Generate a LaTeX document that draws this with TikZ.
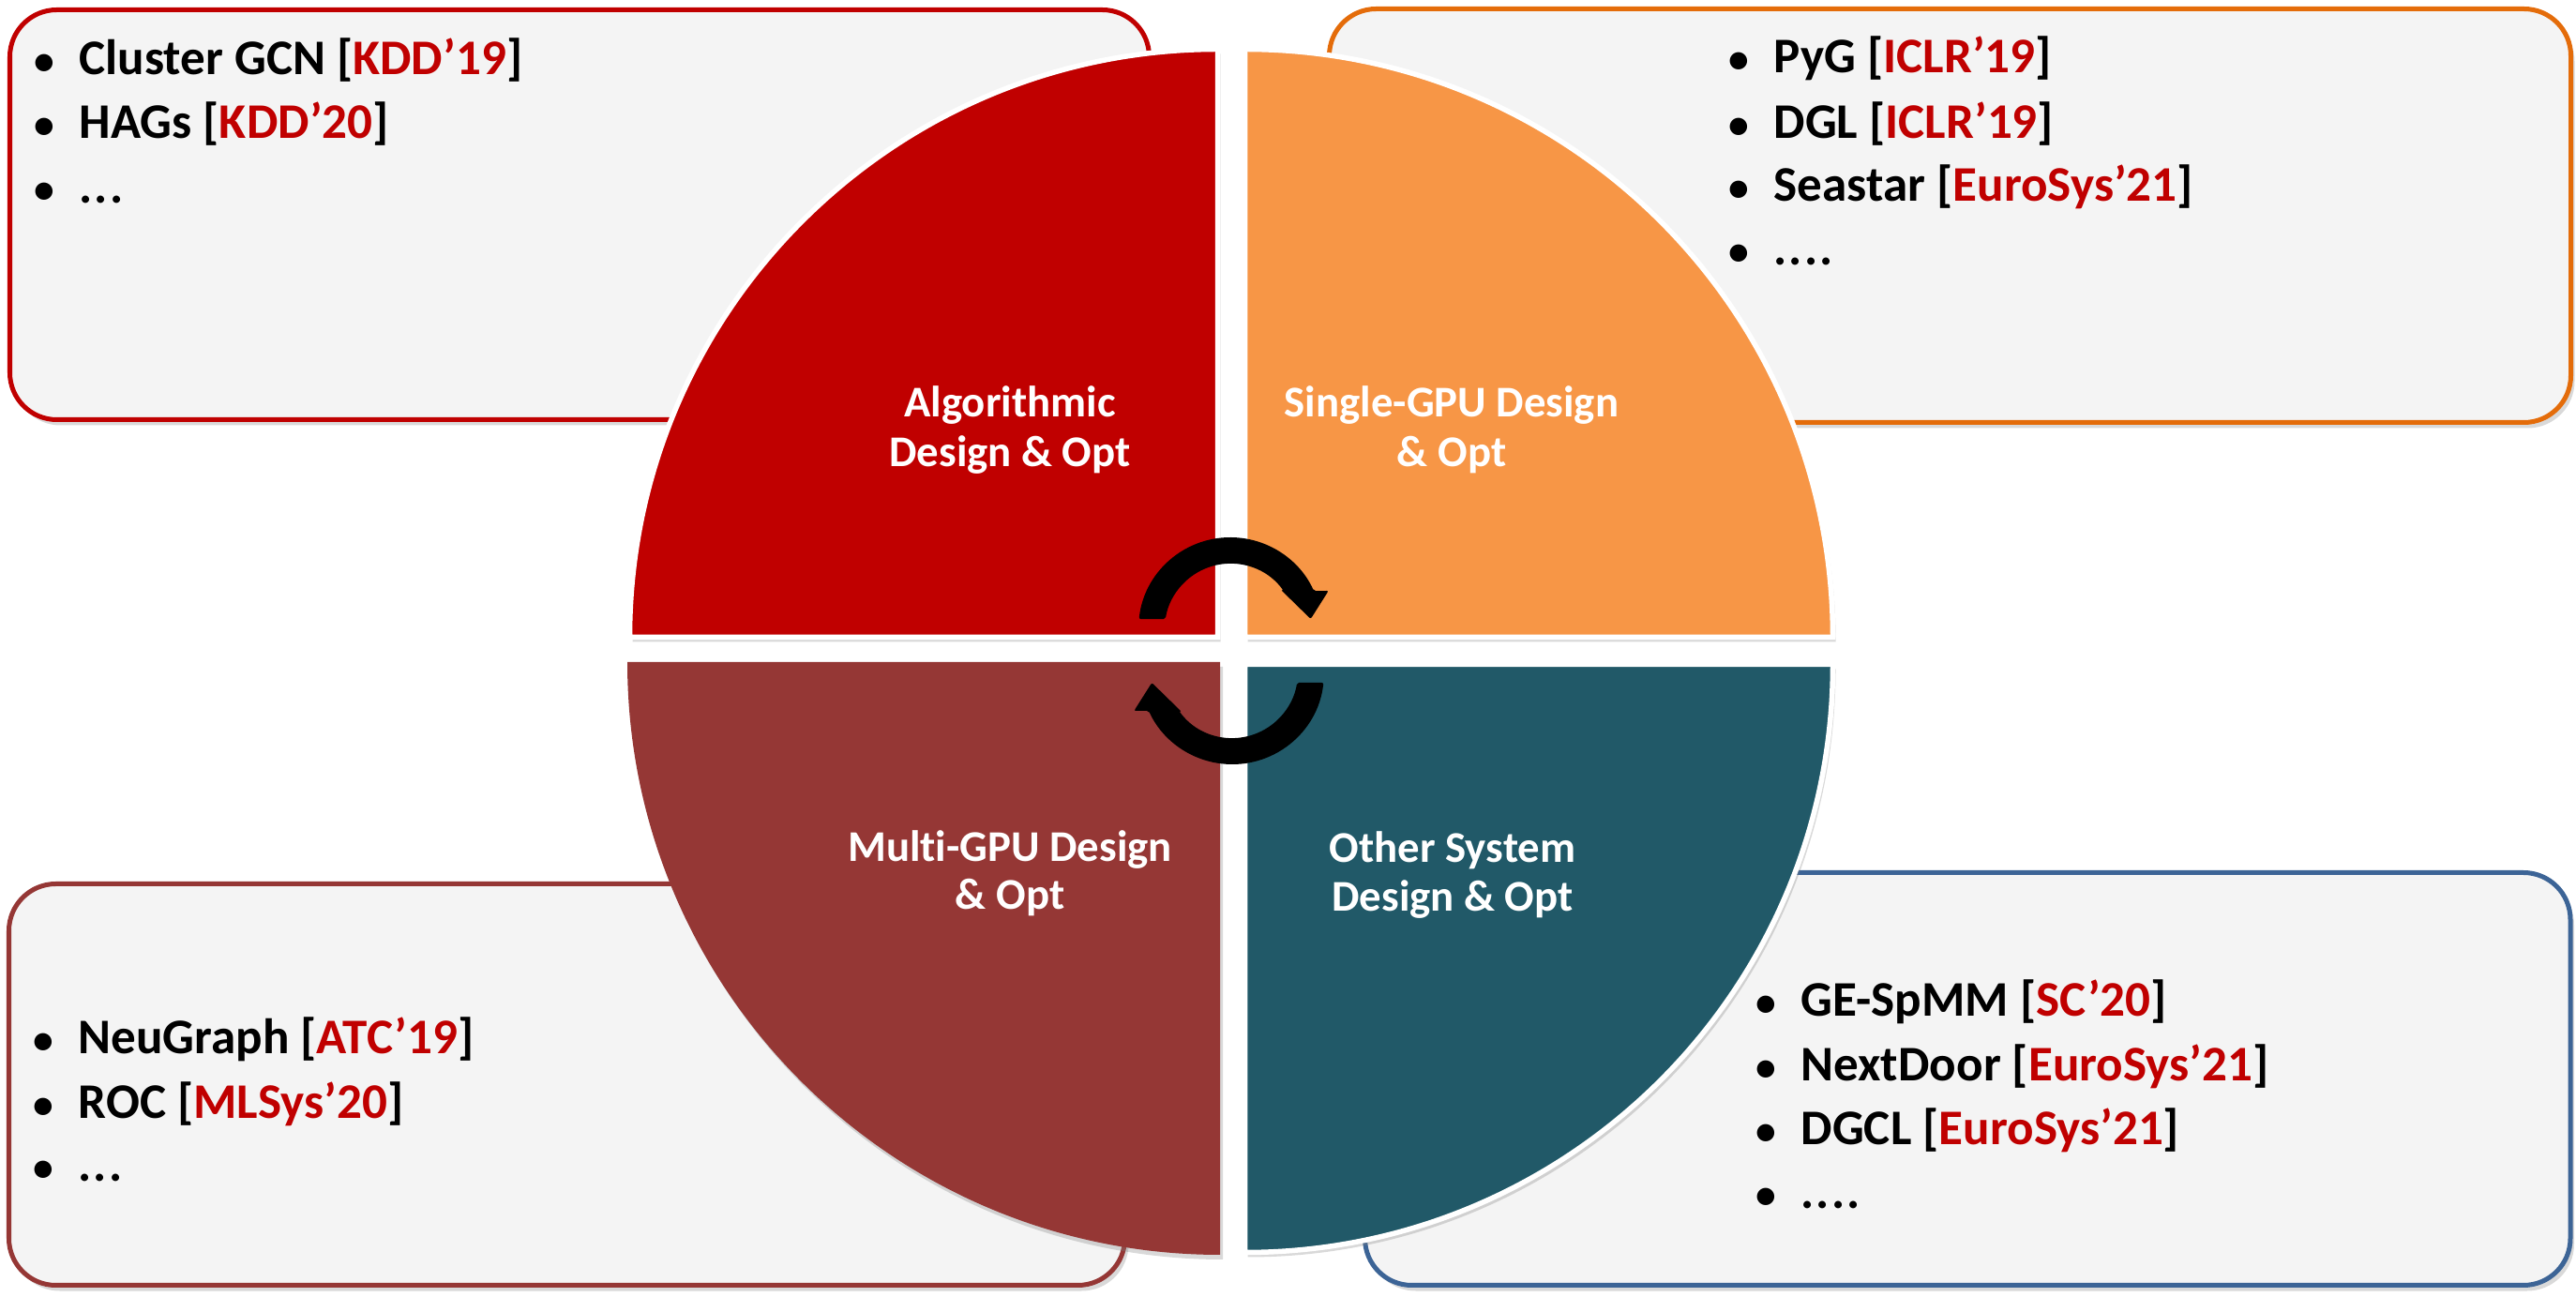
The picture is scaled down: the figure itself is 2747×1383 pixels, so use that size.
\documentclass[tikz,border=0pt]{standalone}
\usepackage{fontspec}
\setmainfont{Carlito}[Ligatures={NoCommon}]
\usetikzlibrary{shadows}
\definecolor{bred}{HTML}{C00000}
\definecolor{qTL}{HTML}{C00000}
\definecolor{qTR}{HTML}{F79646}
\definecolor{qBL}{HTML}{953735}
\definecolor{qBR}{HTML}{215968}
\definecolor{bTR}{HTML}{E46C0A}
\definecolor{bBL}{HTML}{953735}
\definecolor{bBR}{HTML}{3C6496}
\definecolor{boxfill}{HTML}{F4F4F4}
\newcommand{\rd}[1]{\textcolor{bred}{#1}}
\newcommand{\bul}{\llap{\makebox[0pt][c]{\scalebox{0.82}{•}}\hspace{0.37cm}}}
\begin{document}
\begin{tikzpicture}[x=0.01cm,y=-0.01cm,
  box/.style={rounded corners=0.5cm, line width=0.05cm, fill=boxfill,
    drop shadow={opacity=0.3, shadow xshift=0.04cm, shadow yshift=-0.06cm}},
  quad/.style={draw=white, line width=0.055cm,
    drop shadow={opacity=0.3, shadow xshift=0.03cm, shadow yshift=-0.05cm}},
  li/.style={anchor=base west, inner sep=0pt, font=\fontsize{15.1}{18}\selectfont\bfseries},
  ql/.style={anchor=base, inner sep=0pt, text=white, font=\fontsize{13.3}{16}\selectfont\bfseries}]
\useasboundingbox (0,0) rectangle (2747,1383);

% boxes
\draw[box, draw=bred] (10.5,10.5) rectangle (1225.5,447.5);
\draw[box, draw=bTR] (1417.5,9.5) rectangle (2741.5,450.5);
\draw[box, draw=bBL] (9.5,942.5) rectangle (1199.5,1370.5);
\draw[box, draw=bBR] (1455.5,930.5) rectangle (2741,1370.5);

% pie quadrants
\filldraw[quad, fill=qTL] (1298.5,679.5) -- (671.5,679.5) arc[start angle=180, end angle=270, radius=627] -- cycle;
\filldraw[quad, fill=qTR] (1327.5,679.5) -- (1954.5,679.5) arc[start angle=0, end angle=-90, radius=627] -- cycle;
\fill[fill=qBL, drop shadow={opacity=0.3, shadow xshift=0.03cm, shadow yshift=-0.05cm}] (1301,706) -- (669,706) arc[start angle=180, end angle=90, radius=632] -- cycle;
\filldraw[quad, fill=qBR] (1327.5,708.5) -- (1954.5,708.5) arc[start angle=0, end angle=90, radius=627] -- cycle;

% cycle arrows
\begin{scope}[shift={(1312,671)}]
\fill[black, rounded corners=0.02cm] (-173.6:98) arc[start angle=-173.6, end angle=-24.7, radius=98] -- (104.7,-41) -- (85.7,-11) -- (54,-42) -- (-35.9:70) arc[start angle=-35.9, end angle=-171, radius=70] -- cycle;
\end{scope}
\begin{scope}[rotate around={180:(1313,694)}]
\begin{scope}[shift={(1312,671)}]
\fill[black, rounded corners=0.02cm] (-173.6:98) arc[start angle=-173.6, end angle=-24.7, radius=98] -- (104.7,-41) -- (85.7,-11) -- (54,-42) -- (-35.9:70) arc[start angle=-35.9, end angle=-171, radius=70] -- cycle;
\end{scope}
\end{scope}

% quadrant labels
\node[ql] (qa1) at (1077,445) {Algorithmic};
\node[ql] (qa2) at (1077,498) {Design \& Opt};
\node[ql] (qb1) at (1548,445) {Single-GPU Design};
\node[ql] (qb2) at (1548,498) {\& Opt};
\node[ql] (qc1) at (1077,919) {Multi-GPU Design};
\node[ql] (qc2) at (1077,970) {\& Opt};
\node[ql] (qd1) at (1549,920) {Other System};
\node[ql] (qd2) at (1549,972) {Design \& Opt};

% lists
\node[li] (a1) at (84,80) {\bul Cluster GCN [\rd{KDD’19}]};
\node[li] (a2) at (84,148) {\bul HAGs [\rd{KDD’20}]};
\node[li] (a3) at (84,217) {\bul .\kern0.04em.\kern0.04em.};

\node[li] (b1) at (1891,78) {\bul PyG [\rd{ICLR’19}]};
\node[li] (b2) at (1891,148) {\bul DGL [\rd{ICLR’19}]};
\node[li] (b3) at (1891,215) {\bul Seastar [\rd{EuroSys’21}]};
\node[li] (b4) at (1891,283) {\bul .\kern0.04em.\kern0.04em.\kern0.04em.};

\node[li] (c1) at (83,1124) {\bul NeuGraph [\rd{ATC’19}]};
\node[li] (c2) at (83,1193) {\bul ROC [\rd{MLSys’20}]};
\node[li] (c3) at (83,1260) {\bul .\kern0.04em.\kern0.04em.};

\node[li] (d1) at (1920,1084) {\bul GE-SpMM [\rd{SC’20}]};
\node[li] (d2) at (1920,1153) {\bul NextDoor [\rd{EuroSys’21}]};
\node[li] (d3) at (1920,1221) {\bul DGCL [\rd{EuroSys’21}]};
\node[li] (d4) at (1920,1289) {\bul .\kern0.04em.\kern0.04em.\kern0.04em.};
\end{tikzpicture}
\end{document}
